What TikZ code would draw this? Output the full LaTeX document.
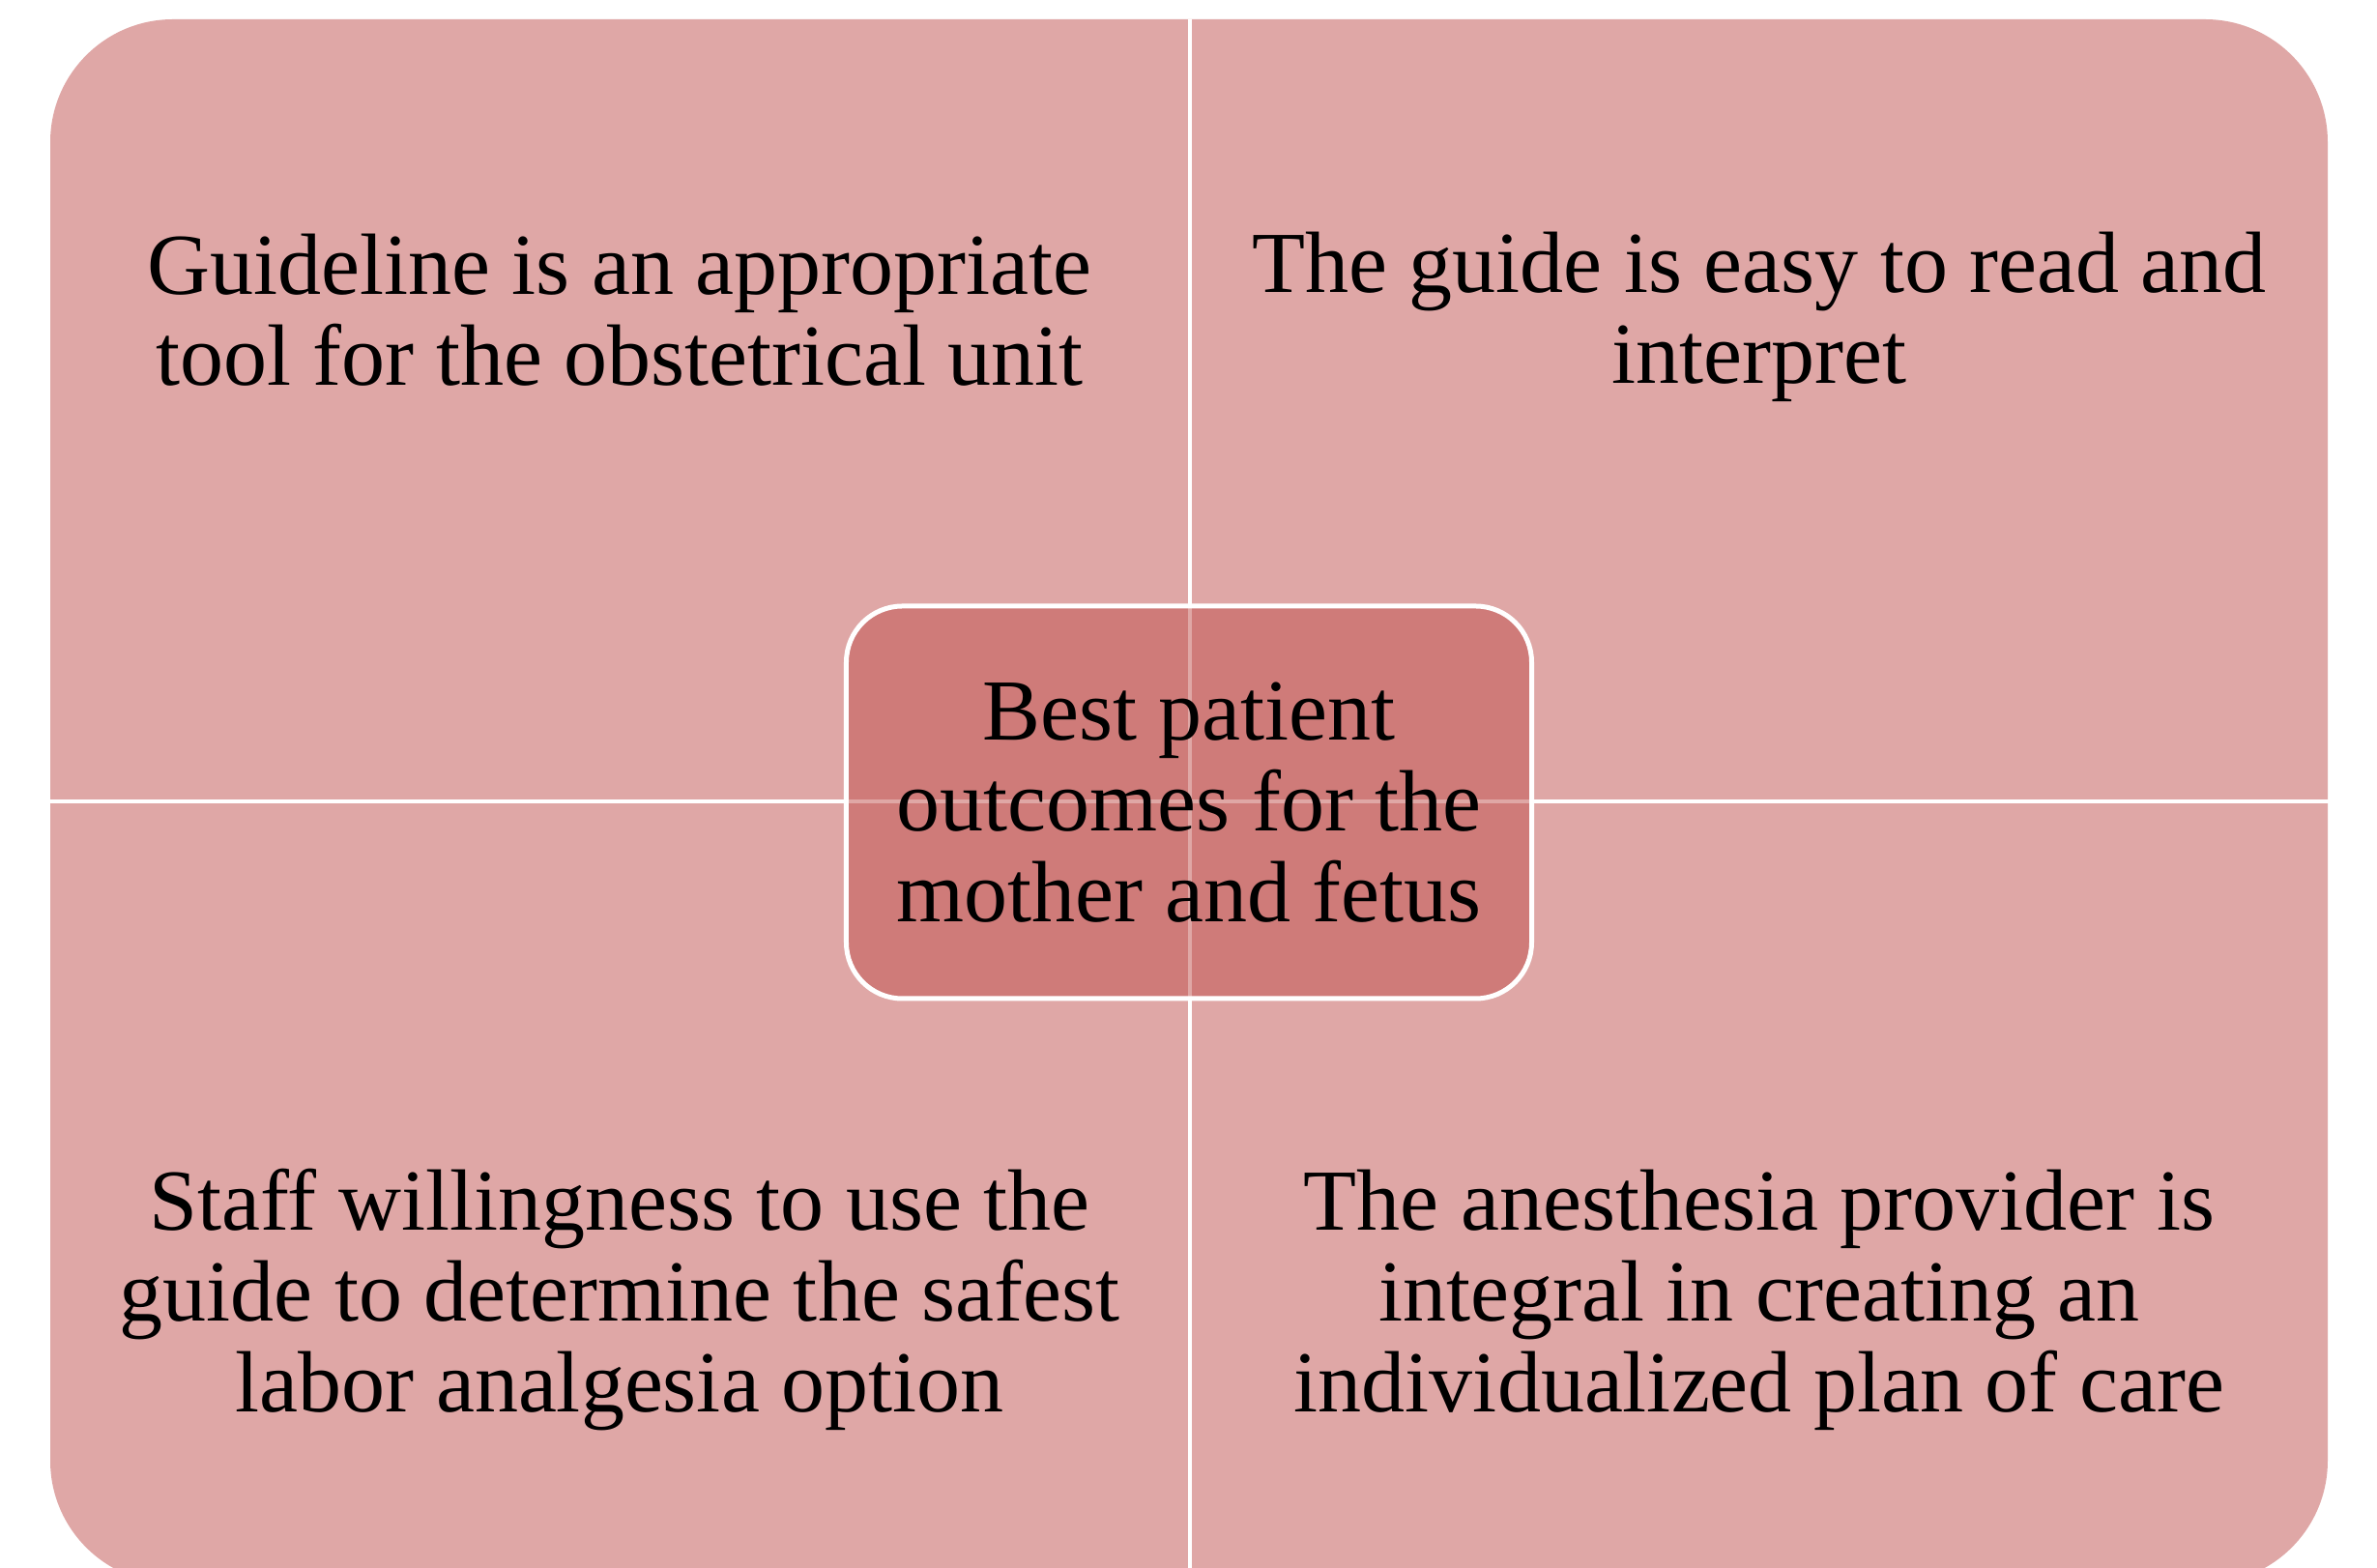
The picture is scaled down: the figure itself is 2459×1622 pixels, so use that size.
\documentclass[tikz,border=0pt]{standalone}
\usepackage{fontspec}
\setmainfont{Liberation Serif}
\begin{document}
\definecolor{quadfill}{RGB}{223,167,166}
\definecolor{corefill}{RGB}{192,80,77}
\begin{tikzpicture}[x=0.2pt,y=-0.2pt,
  quadtext/.style={align=center,inner sep=0pt,text=black,
    font=\fontsize{18}{18.8}\selectfont},
  divider/.style={draw=white,line width=0.8pt},
  corebox/.style={draw=white,line width=1pt,rounded corners=11.6pt,
    fill=corefill,fill opacity=0.5,text opacity=1,
    minimum width=141.8pt,minimum height=81.2pt,align=center,inner sep=0pt,
    font=\fontsize{18}{18.8}\selectfont}]
  \useasboundingbox (0,0) rectangle (2459,1622);
  \clip (0,0) rectangle (2459,1622);
  % outer matrix body
  \fill[quadfill,rounded corners=25.4pt] (52,20) rectangle (2408,1638);
  % quadrant dividers
  \coordinate (vtop) at (1231,20);
  \coordinate (vbot) at (1231,1640);
  \coordinate (hleft) at (50,829);
  \coordinate (hright) at (2410,829);
  \draw[divider] (vtop) -- (vbot);
  \draw[divider] (hleft) -- (hright);
  % quadrant texts
  \node[quadtext] (tl) at (641,321) {Guideline is an appropriate\\tool for the obstetrical unit};
  \node[quadtext] (tr) at (1820,328) {The guide is easy to read and\\interpret};
  \node[quadtext] (bl) at (641,1345) {Staff willingness to use the\\guide to determine the safest\\labor analgesia option};
  \node[quadtext] (br) at (1820,1345) {The anesthesia provider is\\integral in creating an\\individualized plan of care};
  % central outcome
  \node[corebox] (core) at (1230,830) {Best patient\\outcomes for the\\mother and fetus};
\end{tikzpicture}
\end{document}
